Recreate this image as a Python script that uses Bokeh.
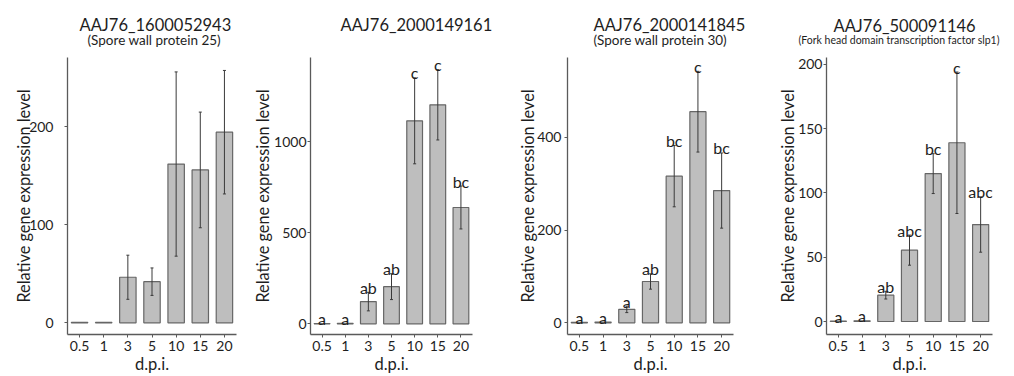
from bokeh.plotting import figure
from bokeh.layouts import row
from bokeh.models import ColumnDataSource, Range1d, Title, FixedTicker
from bokeh.core.properties import value
from bokeh.embed import file_html
from bokeh.resources import INLINE

# ---------------- data ----------------
dpi = ["0.5", "1", "3", "5", "10", "15", "20"]

gene_ids = ["AAJ76_1600052943", "AAJ76_2000149161", "AAJ76_2000141845", "AAJ76_500091146"]
gene_names = ["(Spore wall protein 25)", "", "(Spore wall protein 30)",
              "(Fork head domain transcription factor slp1)"]

mean_1 = [0.4, 0.4, 46.5, 42, 162, 156, 194.5]
se_1 = [0, 0, 22.5, 14, 94, 59, 63]
letters_1 = ["", "", "", "", "", "", ""]

mean_2 = [1.5, 2.5, 122, 204, 1115, 1203, 639]
se_2 = [0, 0, 51, 71, 236, 193, 118]
letters_2 = ["a", "a", "ab", "ab", "c", "c", "bc"]

mean_3 = [1, 1.5, 29, 89, 316, 455, 285]
se_3 = [0, 0, 7, 16.5, 66, 87, 81]
letters_3 = ["a", "a", "a", "ab", "bc", "c", "bc"]

mean_4 = [0.3, 0.5, 20.5, 55.5, 115, 139, 75.4]
se_4 = [0, 0, 3, 11.7, 15.5, 55, 21.5]
letters_4 = ["a", "a", "ab", "abc", "bc", "c", "abc"]

y_ticks_1 = [0, 100, 200]
y_ticks_2 = [0, 500, 1000]
y_ticks_3 = [0, 200, 400]
y_ticks_4 = [0, 50, 100, 150, 200]

y_label = "Relative gene expression level"
x_label = "d.p.i."

# ---------------- layout / style ----------------
FONT = "Lato"
TXT = "#1e1e1e"
AXIS = "#5a5a5a"
BAR_FILL = "#bebebe"
BAR_LINE = "#666666"
ERR = "#3a3a3a"
H = 376

panels = [
    dict(mean=mean_1, se=se_1, letters=letters_1, ticks=y_ticks_1, yr=(-11.9, 270.7),
         width=250, bl=67, br=14, mls=11, als=-7,
         t_off=12, s_off=20, sub_size="13.5px", gap_so=7, t_so=-11),
    dict(mean=mean_2, se=se_2, letters=letters_2, ticks=y_ticks_2, yr=(-58.8, 1463),
         width=260, bl=57, br=38, mls=1, als=-1,
         t_off=30, s_off=0, sub_size="13.5px", gap_so=7, t_so=-11),
    dict(mean=mean_3, se=se_3, letters=letters_3, ticks=y_ticks_3, yr=(-25.2, 571.8),
         width=260, bl=57, br=37, mls=3, als=-3,
         t_off=26, s_off=26, sub_size="13.5px", gap_so=7, t_so=-11),
    dict(mean=mean_4, se=se_4, letters=letters_4, ticks=y_ticks_4, yr=(-10.1, 205.3),
         width=244, bl=56, br=22, mls=1, als=-2,
         t_off=7, s_off=-28, sub_size="10.5px", gap_so=9, t_so=-8),
]

figs = []
for i, cfg in enumerate(panels):
    p = figure(x_range=dpi, y_range=Range1d(*cfg["yr"]), width=cfg["width"], height=H,
               title=None, output_backend="svg", toolbar_location=None,
               min_border_left=cfg["bl"], min_border_right=cfg["br"],
               min_border_top=57, min_border_bottom=42)
    p.outline_line_color = None
    p.xgrid.grid_line_color = None
    p.ygrid.grid_line_color = None
    p.background_fill_color = "white"
    p.border_fill_color = "white"

    hi = [m + s for m, s in zip(cfg["mean"], cfg["se"])]
    lo = [m - s for m, s in zip(cfg["mean"], cfg["se"])]
    src = ColumnDataSource(dict(dpi=dpi, mean=cfg["mean"], hi=hi, lo=lo, letter=cfg["letters"]))
    idx = [k for k, s in enumerate(cfg["se"]) if s > 0]
    err_src = ColumnDataSource(dict(dpi=[dpi[k] for k in idx], hi=[hi[k] for k in idx],
                                    lo=[lo[k] for k in idx]))

    p.vbar(x="dpi", top="mean", bottom=0, width=0.68, source=src,
           fill_color=BAR_FILL, line_color=BAR_LINE, line_width=1.2)
    p.segment(x0="dpi", y0="lo", x1="dpi", y1="hi", source=err_src,
              line_color=ERR, line_width=1)
    p.scatter(x="dpi", y="hi", source=err_src, marker="dash", size=3,
              line_color=ERR, line_width=1)
    p.scatter(x="dpi", y="lo", source=err_src, marker="dash", size=3,
              line_color=ERR, line_width=1)
    p.text(x="dpi", y="hi", text="letter", source=src, text_font=value(FONT),
           text_font_size="16px", text_color=TXT, text_align="center",
           text_baseline="alphabetic", y_offset=-5)

    # axes
    for ax in (p.xaxis, p.yaxis):
        ax.axis_line_color = AXIS
        ax.axis_line_width = 1.3
        ax.major_tick_line_color = AXIS
        ax.major_tick_out = 3
        ax.major_tick_in = 0
        ax.minor_tick_line_color = None
        ax.major_label_text_font = FONT
        ax.major_label_text_font_size = "14px"
        ax.major_label_text_color = TXT
        ax.axis_label_text_font = FONT
        ax.axis_label_text_font_style = "normal"
        ax.axis_label_text_color = TXT
    p.yaxis.ticker = FixedTicker(ticks=cfg["ticks"])
    p.yaxis.major_label_standoff = cfg["mls"]
    p.yaxis.axis_label = y_label
    p.yaxis.axis_label_text_font_size = "16.3px"
    p.yaxis.axis_label_standoff = cfg["als"]
    p.xaxis.major_label_standoff = 3
    p.xaxis.axis_label = x_label
    p.xaxis.axis_label_text_font_size = "16.5px"
    p.xaxis.axis_label_standoff = 0

    # titles (first added sits closest to the frame): spacer, gene name, gene id
    p.add_layout(Title(text=" ", text_font_size="1px", standoff=cfg["gap_so"]), "above")
    p.add_layout(Title(text=gene_names[i] if gene_names[i] else " ", align="left",
                       offset=cfg["s_off"], standoff=0, text_font=FONT,
                       text_font_size=cfg["sub_size"], text_font_style="normal",
                       text_color=TXT), "above")
    p.add_layout(Title(text=gene_ids[i], align="left", offset=cfg["t_off"],
                       standoff=cfg["t_so"], text_font=FONT, text_font_size="16.5px",
                       text_font_style="normal", text_color=TXT), "above")
    figs.append(p)

layout = row(*figs, spacing=0)
open("out.html", "w").write(file_html(layout, INLINE))
